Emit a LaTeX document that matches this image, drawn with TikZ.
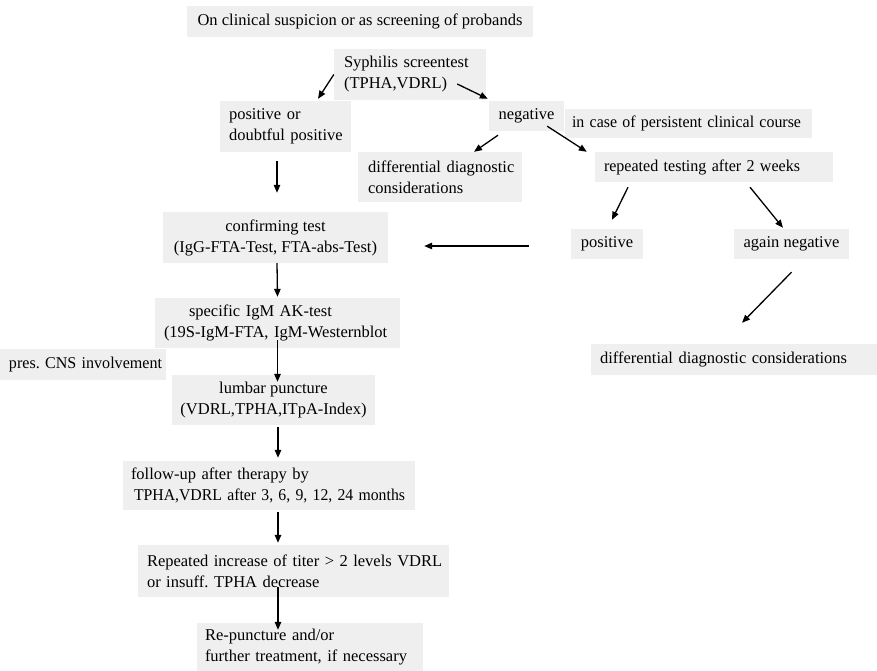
\documentclass[tikz,border=0pt]{standalone}
\usepackage{fontspec}
\usepackage{graphicx}
\setmainfont{Liberation Serif}
\usetikzlibrary{arrows.meta}
\frenchspacing
\definecolor{boxgray}{RGB}{239,239,239}
\newcommand{\boxline}[2]{\hspace*{#1}\mbox{#2}}
\newcommand{\fitw}[2]{\resizebox{#1}{\height}{#2}}
\tikzset{
  box/.style={fill=boxgray, inner ysep=0pt, inner xsep=0pt, font=\fontsize{16.5}{21}\selectfont},
  cbox/.style={box, align=center},
  lbox/.style={box, align=left, text width=#1, minimum width=#1},
  arr/.style={line width=1.3pt, -{Triangle[length=8pt,width=6.5pt]}},
}
\begin{document}
\begin{tikzpicture}[x=1pt,y=-1pt]
\useasboundingbox (0,0) rectangle (877,671);
% boxes
\node[cbox, minimum width=346pt, minimum height=31pt] (top) at (360,21.5) {On clinical suspicion or as screening of probands};
\node[lbox=152pt, minimum height=51pt] (syph) at (410,74.5) {\boxline{10pt}{Syphilis screentest}\\\boxline{10pt}{(TPHA,VDRL)}};
\node[lbox=131pt, minimum height=51pt] (pos) at (285.5,126.5) {\boxline{9pt}{positive or}\\\boxline{9pt}{doubtful positive}};
\node[cbox, minimum width=75pt, minimum height=30pt] (neg) at (526.5,116) {negative};
\node[lbox=247pt, minimum height=29pt] (incase) at (688.5,123.5) {\boxline{7pt}{\fitw{229pt}{in case of persistent clinical course}}};
\node[lbox=164pt, minimum height=50pt] (diffa) at (440,177) {\boxline{10pt}{differential diagnostic}\\\boxline{10pt}{considerations}};
\node[lbox=238pt, minimum height=30pt] (rep) at (714,167) {\boxline{9pt}{\fitw{196pt}{repeated testing after 2 weeks}}};
\node[cbox, minimum width=72pt, minimum height=30pt] (posit) at (607,244) {positive};
\node[cbox, minimum width=115pt, minimum height=30pt] (again) at (791.5,244) {again negative};
\node[lbox=286pt, minimum height=31pt] (diffb) at (734,359.5) {\boxline{9pt}{differential diagnostic considerations}};
\node[cbox, minimum width=225pt, minimum height=51pt] (conf) at (275.5,237.5) {confirming test\\(IgG-FTA-Test, FTA-abs-Test)};
\node[lbox=245pt, minimum height=50pt] (spec) at (277.5,323) {\boxline{34pt}{specific IgM AK-test}\\\boxline{9pt}{(19S-IgM-FTA, IgM-Westernblot}};
\node[lbox=166pt, minimum height=31pt] (cns) at (83,364.5) {\boxline{9pt}{\fitw{153pt}{pres. CNS involvement}}};
\node[cbox, minimum width=203pt, minimum height=50pt] (lumbar) at (273.5,400) {lumbar puncture\\(VDRL,TPHA,ITpA-Index)};
\node[lbox=292pt, minimum height=49pt] (follow) at (269,485.5) {\boxline{8pt}{follow-up after therapy by}\\\boxline{11pt}{\fitw{271pt}{TPHA,VDRL after 3, 6, 9, 12, 24 months}}};
\node[lbox=311pt, minimum height=52pt] (repinc) at (293.5,571) {\boxline{9pt}{Repeated increase of titer > 2 levels VDRL}\\\boxline{9pt}{or insuff. TPHA decrease}};
\node[lbox=226pt, minimum height=48pt] (repunc) at (310,647) {\boxline{8pt}{Re-puncture and/or}\\\boxline{8pt}{further treatment, if necessary}};
% arrows
\draw[arr] (syph.west) -- ([xshift=32.5pt,yshift=2pt]pos.north);
\draw[arr] ([xshift=-29pt,yshift=-9.5pt]syph.east) -- ([xshift=-1pt,yshift=2pt]neg.north west);
\draw[arr] ([xshift=-28.5pt,yshift=-4pt]neg.south) -- ([xshift=34pt]diffa.north);
\draw[arr] ([xshift=-17pt,yshift=5pt]neg.south east) -- ([xshift=-8pt]rep.north west);
\draw[arr] ([xshift=-8.5pt,yshift=-9pt]pos.south) -- ([xshift=1.5pt,yshift=19pt]conf.north);
\draw[arr] ([xshift=-86pt,yshift=-5pt]rep.south) -- ([xshift=5pt,yshift=9pt]posit.north);
\draw[arr] ([xshift=36pt,yshift=-5pt]rep.south) -- ([xshift=-8.5pt,yshift=1pt]again.north);
\draw[arr] ([yshift=-13pt]again.south) -- ([xshift=8pt,yshift=21pt]diffb.north);
\draw[arr] ([xshift=-42pt,yshift=-2pt]posit.west) -- ([xshift=36pt,yshift=-8.5pt]conf.east);
\draw[arr] ([xshift=1.5pt]conf.south) -- ([yshift=1pt]spec.north);
\draw[arr] ([yshift=8pt]spec.south) -- ([xshift=4pt,yshift=-7pt]lumbar.north);
\draw[arr] ([xshift=4.5pt,yshift=-2pt]lumbar.south) -- ([xshift=9pt,yshift=3pt]follow.north);
\draw[arr] ([xshift=9pt,yshift=-2pt]follow.south) -- ([xshift=-15.5pt,yshift=2pt]repinc.north);
\draw[arr] ([xshift=-15.5pt,yshift=10pt]repinc.south) -- ([xshift=-32pt,yshift=-7pt]repunc.north);
\end{tikzpicture}
\end{document}
